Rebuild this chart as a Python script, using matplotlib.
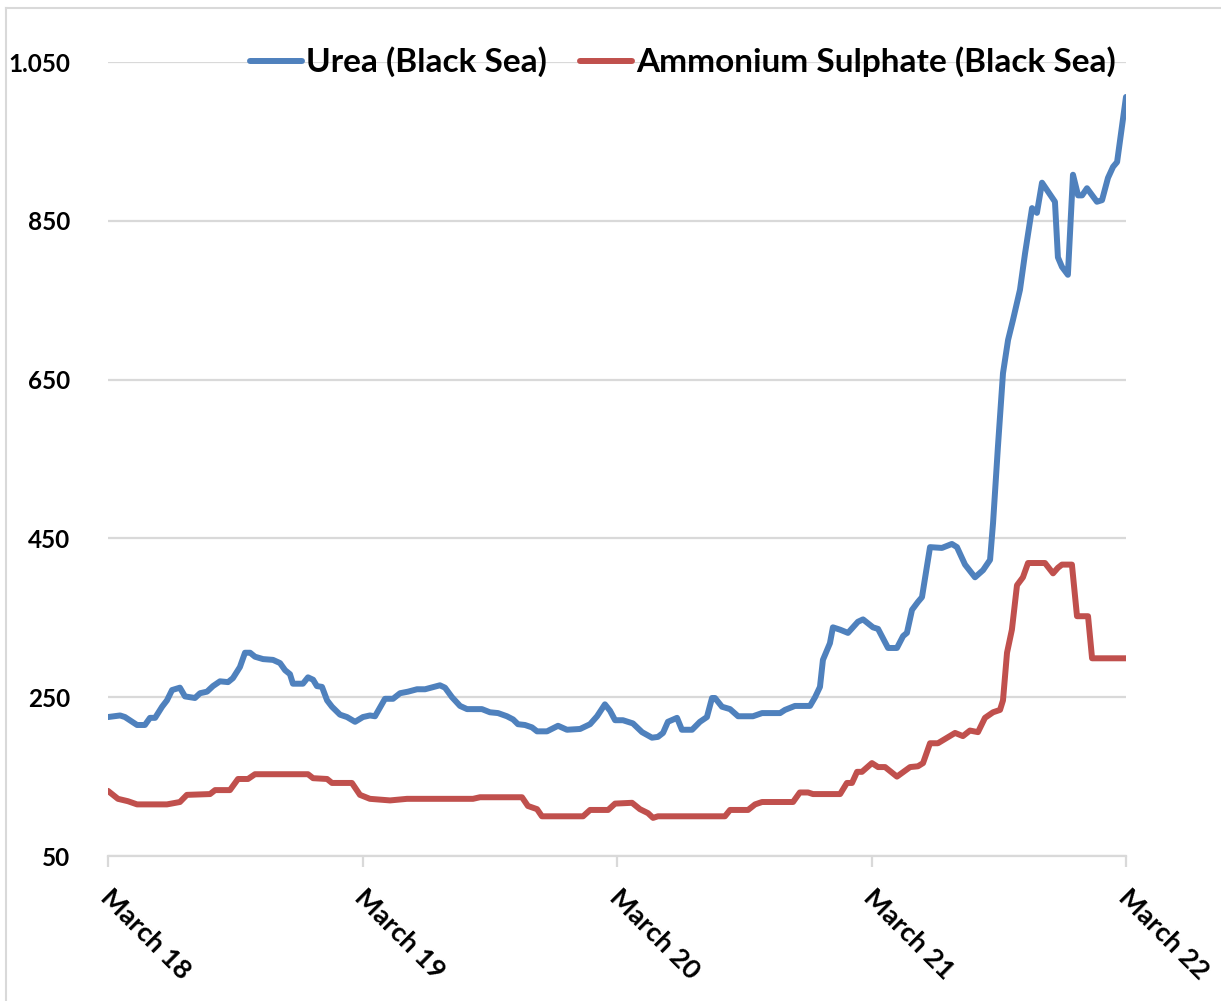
import matplotlib
matplotlib.use("Agg")
import matplotlib.pyplot as plt
from matplotlib.lines import Line2D
from matplotlib.ticker import FuncFormatter, FixedLocator
from matplotlib.transforms import ScaledTranslation

# months since March 2018
urea_x = [0, 0.57, 0.80, 1.37, 1.74, 1.98, 2.22, 2.55, 2.78, 3.02, 3.39, 3.63, 4.10, 4.34, 4.67,
          4.95, 5.28, 5.66, 5.89, 6.22, 6.46, 6.70, 6.93, 7.31, 7.78, 8.11, 8.35, 8.58, 8.72, 9.19,
          9.43, 9.67, 9.85, 10.09, 10.33, 10.56, 10.94, 11.27, 11.65, 12.02, 12.35, 12.59, 13.06,
          13.44, 13.77, 14.15, 14.57, 14.95, 15.65, 15.89, 16.22, 16.60, 16.93, 17.63, 18.01, 18.39,
          18.81, 19.10, 19.33, 19.66, 19.99, 20.23, 20.70, 21.22, 21.64, 22.26, 22.73, 23.06, 23.43,
          23.67, 23.91, 24.28, 24.75, 25.18, 25.65, 25.93, 26.17, 26.40, 26.83, 27.06, 27.54, 27.91,
          28.24, 28.48, 28.62, 28.95, 29.33, 29.71, 30.41, 30.84, 31.69, 31.92, 32.39, 33.10, 33.34,
          33.57, 33.71, 34.04, 34.18, 34.52, 34.89, 35.36, 35.60, 36.07, 36.31, 36.78, 37.20, 37.49,
          37.67, 37.91, 38.19, 38.38, 38.76, 39.32, 39.79, 40.03, 40.41, 40.88, 41.26, 41.59, 41.73,
          41.96, 42.20, 42.44, 42.67, 43.00, 43.24, 43.57, 43.80, 44.04, 44.32, 44.65, 44.79, 44.98,
          45.26, 45.50, 45.74, 45.93, 46.16, 46.63, 46.87, 47.15, 47.39, 47.58, 48.00]
urea_y = [225, 227, 225, 215, 215, 224, 224, 238, 246, 259, 262, 251, 249, 255, 257,
          264, 270, 269, 274, 288, 306, 306, 301, 298, 297, 293, 284, 279, 267, 267,
          275, 272, 264, 263, 246, 238, 228, 225, 219, 225, 227, 226, 248,
          248, 255, 257, 260, 260, 265, 262, 250, 239, 235, 235, 231, 230,
          226, 222, 216, 215, 212, 207, 207, 214, 209, 210, 216, 226, 241,
          233, 221, 221, 217, 206, 199, 200, 205, 219, 224, 209, 209, 219,
          225, 249, 249, 238, 235, 226, 226, 230, 230, 234, 239, 239, 250,
          263, 297, 318, 338, 335, 331, 345, 348, 338, 336, 312, 312, 327,
          331, 360, 370, 376, 439, 438, 443, 439, 417, 401, 410, 423, 469,
          565, 658, 700, 725, 763, 809, 866, 860, 898, 887, 874, 804, 792,
          782, 908, 882, 882, 891, 874, 876, 904, 918, 924, 1006]

amsul_x = [0, 0.47, 0.94, 1.37, 2.78, 3.39, 3.72, 4.81, 5.05, 5.75, 6.13, 6.60, 6.93, 9.43, 9.67,
           10.33, 10.56, 11.50, 11.88, 12.35, 13.30, 14.10, 17.21, 17.54, 19.52, 19.80, 20.23,
           20.46, 22.40, 22.73, 23.58, 23.91, 24.71, 25.08, 25.46, 25.70, 25.93, 29.09, 29.33,
           30.18, 30.51, 30.84, 32.30, 32.62, 33.01, 33.24, 34.52, 34.84, 35.08, 35.32, 35.55,
           36.02, 36.31, 36.64, 37.20, 37.82, 38.19, 38.43, 38.76, 39.13, 39.94, 40.31, 40.64,
           41.02, 41.35, 41.73, 42.06, 42.20, 42.39, 42.62, 42.86, 43.14, 43.38, 44.18, 44.56,
           44.79, 44.98, 45.45, 45.69, 46.21, 46.40, 48.00]
amsul_y = [132, 122, 119, 115, 115, 118, 127, 128, 133, 133, 147, 147, 153, 153, 148,
           147, 142, 142, 127, 122, 120, 122, 122, 124, 124, 113, 109,
           100, 100, 108, 108, 116, 117, 109, 104, 98, 100, 100, 108,
           108, 115, 118, 118, 130, 130, 128, 128, 142, 142, 156, 156,
           167, 162, 162, 150, 162, 163, 167, 192, 192, 205, 201, 208,
           206, 224, 231, 234, 246, 306, 335, 391, 401, 419, 419, 406,
           413, 417, 417, 352, 352, 299, 299]

tick_pos = [0, 12, 24, 36, 48]
tick_labels = ["March 18", "March 19", "March 20", "March 21", "March 22"]
y_ticks = [50, 250, 450, 650, 850, 1050]
series_names = ["Urea (Black Sea)", "Ammonium Sulphate (Black Sea)"]

FONT = "Lato"
WEIGHT = "bold"
fig = plt.figure(figsize=(12.21, 10.01), dpi=100)
ax = fig.add_axes([108/1221, 1 - 856/1001, (1126-108)/1221, (856-62)/1001])

blue = "#4F81BD"
red = "#C0504D"
ax.plot(urea_x, urea_y, color=blue, lw=4.3, solid_joinstyle="round", solid_capstyle="round",
        label=series_names[0], zorder=3)
ax.plot(amsul_x, amsul_y, color=red, lw=4.3, solid_joinstyle="round", solid_capstyle="round",
        label=series_names[1], zorder=3)

ax.set_xlim(0, 48)
ax.set_ylim(50, 1050)
ax.yaxis.set_major_locator(FixedLocator(y_ticks))
ax.yaxis.set_major_formatter(FuncFormatter(lambda v, p: f"{int(v):,}".replace(",", ".")))
ax.grid(axis="y", color="#D9D9D9", lw=1.6, zorder=0)
ax.set_axisbelow(True)

for s in ["top", "right", "left"]:
    ax.spines[s].set_visible(False)
ax.spines["bottom"].set_color("#D9D9D9")
ax.spines["bottom"].set_linewidth(1.6)

ax.tick_params(axis="y", length=0, pad=27, labelsize=17.5)
ax.tick_params(axis="x", length=8, width=1.6, color="#D9D9D9", direction="out", pad=13)
for lab in ax.get_yticklabels():
    lab.set_fontfamily(FONT)
    lab.set_fontweight(WEIGHT)

ax.set_xticks(tick_pos)
ax.set_xticklabels(tick_labels, rotation=-45, ha="left", va="top", rotation_mode="anchor",
                   fontsize=19.5, fontfamily=FONT, fontweight=WEIGHT)
for lab in ax.get_xticklabels():
    lab.set_transform(lab.get_transform() + ScaledTranslation(5/100, 0, fig.dpi_scale_trans))

leg = ax.legend(loc="center", bbox_to_anchor=(683/1221, 1 - 62/1001), bbox_transform=fig.transFigure,
                ncol=2, frameon=False, handlelength=1.55, handletextpad=0.12, columnspacing=1.0,
                prop={"family": FONT, "weight": WEIGHT, "size": 24})

# chart frame (left and top edges visible)
fig.add_artist(Line2D([6/1221, 6/1221], [0, 1 - 8/1001], transform=fig.transFigure,
                      color="#D9D9D9", lw=1.5))
fig.add_artist(Line2D([6/1221, 1], [1 - 8/1001, 1 - 8/1001], transform=fig.transFigure,
                      color="#D9D9D9", lw=1.5))

fig.savefig("out.png", dpi=100, facecolor="white")
